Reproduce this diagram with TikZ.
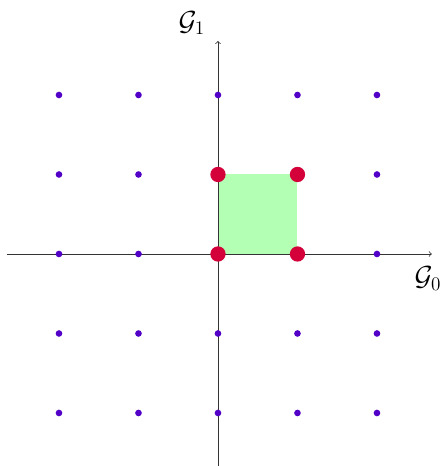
\documentclass[tikz,border=0pt]{standalone}
\usepackage{amsmath}
\definecolor{dotblue}{HTML}{5200C8}
\definecolor{dotred}{HTML}{D4003A}
\definecolor{sqgreen}{HTML}{B3FFB3}
\begin{document}
\begin{tikzpicture}[x=2.1cm,y=2.1cm,
  axis/.style={draw=black!80,line width=0.6pt,->},
  bluedot/.style={circle,fill=dotblue,inner sep=0pt,minimum size=5pt},
  reddot/.style={circle,fill=dotred,inner sep=0pt,minimum size=11.5pt},
  lbl/.style={font=\fontsize{22}{26}\selectfont,inner sep=1pt}]
\useasboundingbox (-2.742,-2.667) rectangle (2.855,3.195);
\fill[sqgreen] (0,0) rectangle (1,1);
\coordinate (xl) at (-2.66,0);
\coordinate (xr) at (2.69,0);
\coordinate (yb) at (0,-2.67);
\coordinate (yt) at (0,2.68);
\draw[axis] (xl) -- (xr);
\draw[axis] (yb) -- (yt);
\foreach \i in {-2,...,2}{
  \foreach \j in {-2,...,2}{
    \node[bluedot] (p\i\j) at (\i,\j) {};
  }
}
\node[reddot] (r00) at (0,0) {};
\node[reddot] (r10) at (1,0) {};
\node[reddot] (r01) at (0,1) {};
\node[reddot] (r11) at (1,1) {};
\node[lbl] (g0) at (2.64,-0.31) {$\mathcal{G}_0$};
\node[lbl] (g1) at (-0.33,2.91) {$\mathcal{G}_1$};
\end{tikzpicture}
\end{document}
